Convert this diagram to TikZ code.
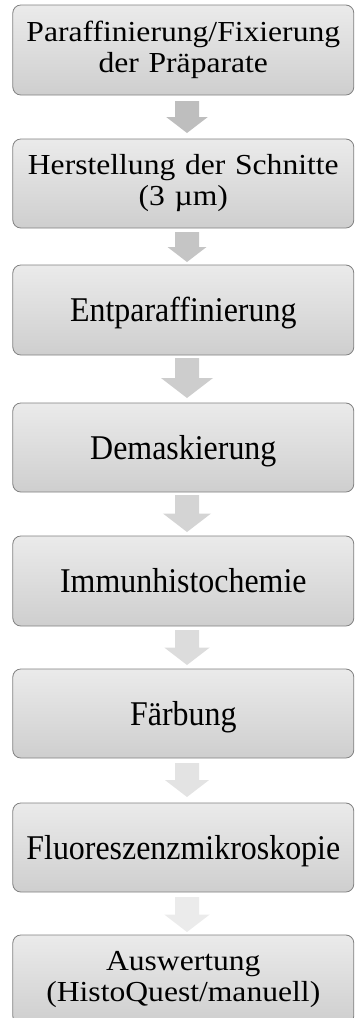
\documentclass[tikz,border=0pt]{standalone}
\usepackage{fontspec}
\setmainfont{Liberation Serif}[FakeStretch=1.09]
\newfontfamily\tallfont{Liberation Serif}[FakeStretch=0.92]
\usetikzlibrary{calc}
\newcommand{\blockarr}[3]{% name, length, fill
  \fill[#3, shift={(#1)}] (-12,-#2/2) -- (12,-#2/2) -- (12,0) -- (0.65*#2,0)
    -- (0,#2/2) -- (-0.65*#2,0) -- (-12,0) -- cycle;}
\begin{document}
\begin{tikzpicture}[x=1pt,y=-1pt,
  stepbox/.style={draw=black!50, line width=0.8pt, rounded corners=8pt,
    top color=black!8, bottom color=black!19,
    minimum width=341pt, text width=336pt, align=center, inner sep=0pt,
    font=\fontsize{29}{31}\selectfont},
  onebox/.style={stepbox, font=\tallfont\fontsize{34.7}{36}\selectfont,
    text height=23pt, text depth=0pt}]
\useasboundingbox (0,0) rectangle (355,1018);
\clip (0,0) rectangle (355,1018);
\node[stepbox, minimum height=90pt] (b1) at (183.3,50) {Paraffinierung/Fixierung\\der Präparate};
\node[stepbox, minimum height=89pt] (b2) at (183.3,183.5) {Herstellung der Schnitte\\(3 µm)};
\node[onebox, minimum height=90pt] (b3) at (183.3,310) {Entparaffinierung};
\node[onebox, minimum height=89pt] (b4) at (183.3,447.5) {Demaskierung};
\node[onebox, minimum height=90pt] (b5) at (183.3,581) {Immunhistochemie};
\node[onebox, minimum height=89pt] (b6) at (183.3,713.5) {Färbung};
\node[onebox, minimum height=89pt] (b7) at (183.3,847.5) {Fluoreszenzmikroskopie};
\node[stepbox, minimum height=89pt] (b8) at (183.3,979.5) {Auswertung\\(HistoQuest/manuell)};
\coordinate (a1) at (187,117);
\coordinate (a2) at (187,247);
\coordinate (a3) at (187,378);
\coordinate (a4) at (187,513.5);
\coordinate (a5) at (187,647.5);
\coordinate (a6) at (187,780);
\coordinate (a7) at (187,914.5);
\blockarr{a1}{32}{fill={rgb,255:red,190;green,190;blue,190}}
\blockarr{a2}{30}{fill={rgb,255:red,197;green,197;blue,197}}
\blockarr{a3}{40}{fill={rgb,255:red,205;green,205;blue,205}}
\blockarr{a4}{37}{fill={rgb,255:red,212;green,212;blue,212}}
\blockarr{a5}{35}{fill={rgb,255:red,220;green,220;blue,220}}
\blockarr{a6}{34}{fill={rgb,255:red,227;green,227;blue,227}}
\blockarr{a7}{35}{fill={rgb,255:red,235;green,235;blue,235}}
\end{tikzpicture}
\end{document}
